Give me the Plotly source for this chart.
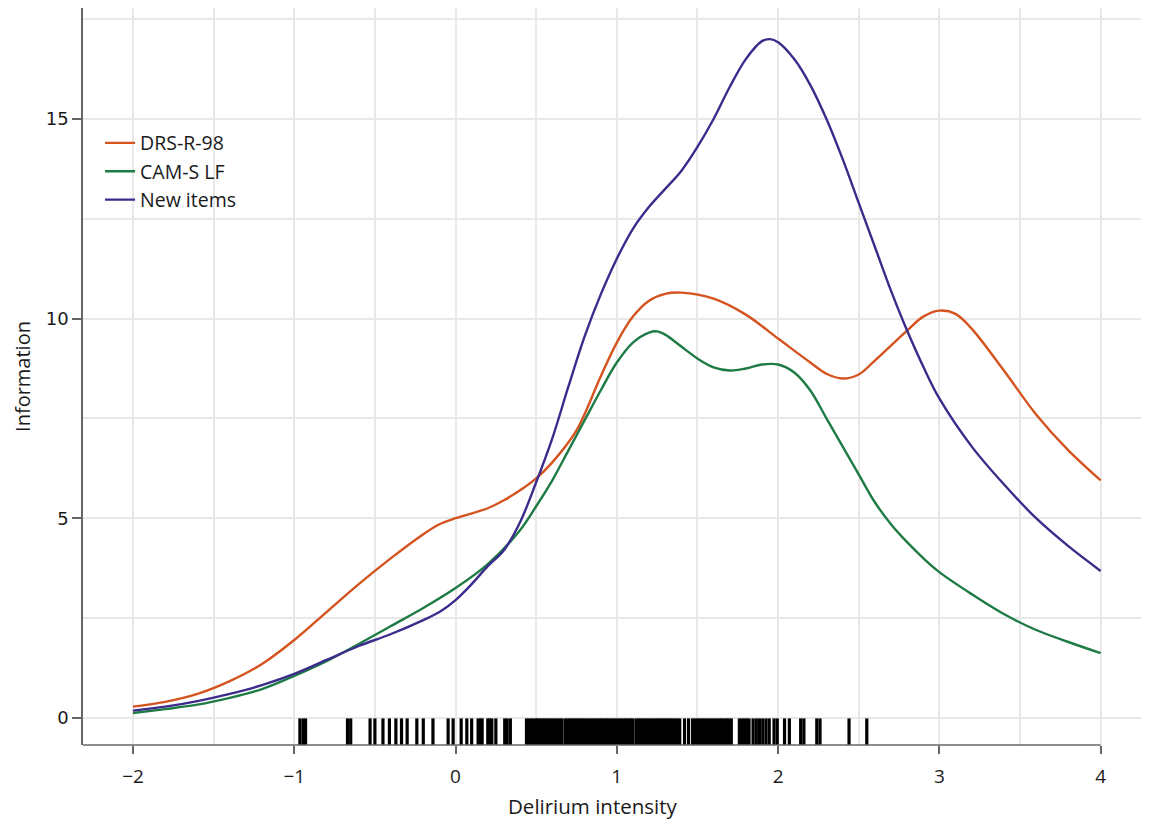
import plotly.graph_objects as go

# ---- data ----
x_drs = [-2.0, -1.8, -1.6, -1.4, -1.2, -1.0, -0.8, -0.6, -0.4, -0.2, -0.1, 0.0, 0.2, 0.3, 0.4, 0.5, 0.6,
         0.75, 0.9, 1.0, 1.1, 1.2, 1.3, 1.4, 1.6, 1.8, 2.0, 2.2, 2.3, 2.4, 2.5, 2.6, 2.8, 2.9, 3.0, 3.1, 3.2,
         3.4, 3.6, 3.8, 4.0]
y_drs = [0.28, 0.4, 0.6, 0.92, 1.35, 1.95, 2.65, 3.35, 4.0, 4.6, 4.85, 5.0, 5.25, 5.45, 5.7, 6.0, 6.4,
         7.2, 8.55, 9.4, 10.05, 10.45, 10.62, 10.65, 10.5, 10.1, 9.5, 8.9, 8.62, 8.5, 8.6, 8.95, 9.7, 10.05,
         10.2, 10.12, 9.75, 8.7, 7.6, 6.7, 5.95]

x_cam = [-2.0, -1.8, -1.6, -1.4, -1.2, -1.0, -0.8, -0.6, -0.4, -0.2, 0.0, 0.2, 0.4, 0.5, 0.6, 0.7, 0.8, 0.9,
         1.0, 1.1, 1.2, 1.25, 1.3, 1.4, 1.5, 1.6, 1.7, 1.8, 1.9, 2.0, 2.1, 2.2, 2.3, 2.4, 2.5, 2.6, 2.7,
         2.8, 2.9, 3.0, 3.2, 3.4, 3.6, 3.8, 4.0]
y_cam = [0.12, 0.22, 0.33, 0.5, 0.72, 1.05, 1.42, 1.85, 2.3, 2.75, 3.25, 3.85, 4.7, 5.3, 5.95, 6.7, 7.45, 8.2,
         8.9, 9.4, 9.65, 9.68, 9.6, 9.3, 9.0, 8.78, 8.7, 8.75, 8.85, 8.85, 8.65, 8.2, 7.5, 6.8, 6.1, 5.4, 4.85,
         4.4, 4.0, 3.65, 3.1, 2.6, 2.2, 1.9, 1.62]

x_new = [-2.0, -1.8, -1.6, -1.4, -1.2, -1.0, -0.8, -0.6, -0.4, -0.2, -0.1, 0.0, 0.1, 0.2, 0.3, 0.4, 0.5,
         0.6, 0.7, 0.8, 0.9, 1.0, 1.1, 1.2, 1.3, 1.4, 1.5, 1.6, 1.7, 1.8, 1.9, 1.95, 2.0, 2.1,
         2.2, 2.3, 2.4, 2.5, 2.6, 2.7, 2.8, 2.9, 3.0, 3.2, 3.4, 3.6, 3.8, 4.0]
y_new = [0.18, 0.28, 0.42, 0.6, 0.82, 1.1, 1.45, 1.8, 2.1, 2.45, 2.65, 2.95, 3.35, 3.8, 4.2, 4.9, 5.9,
         7.0, 8.3, 9.55, 10.6, 11.5, 12.25, 12.8, 13.25, 13.7, 14.3, 15.0, 15.8, 16.5, 16.95, 17.0,
         16.92, 16.5, 15.85, 15.0, 14.0, 12.9, 11.8, 10.7, 9.7, 8.8, 8.0, 6.8, 5.85, 5.0, 4.3, 3.68]

rug = [-0.965, -0.945, -0.93, -0.67, -0.65, -0.53, -0.50, -0.45, -0.41, -0.37, -0.335, -0.30, -0.24,
       -0.20, -0.14, -0.046, -0.015, 0.035, 0.07, 0.10, 0.14, 0.155, 0.165, 0.20, 0.21, 0.225, 0.25,
       0.305, 0.32, 0.34,
       0.44, 0.455, 0.47, 0.485, 0.50, 0.51, 0.525, 0.54, 0.555, 0.57, 0.585, 0.60, 0.615, 0.63, 0.645, 0.66,
       0.68, 0.695,
       0.71, 0.725, 0.74, 0.755, 0.77, 0.785, 0.80, 0.815, 0.83, 0.845, 0.86, 0.875, 0.89, 0.905, 0.92,
       0.935, 0.95, 0.965, 0.98, 0.995, 1.01, 1.025, 1.04, 1.055, 1.07, 1.085, 1.10,
       1.12, 1.135, 1.15, 1.165, 1.18, 1.195, 1.21, 1.225, 1.24, 1.255, 1.27, 1.285, 1.30, 1.315, 1.33,
       1.345, 1.36, 1.375, 1.39,
       1.42, 1.445,
       1.47, 1.485, 1.50, 1.515, 1.53, 1.545, 1.56, 1.575, 1.59, 1.605, 1.62, 1.635,
       1.65, 1.665, 1.68, 1.695, 1.71,
       1.76, 1.775, 1.79, 1.805, 1.82, 1.845, 1.865, 1.885, 1.905, 1.925, 1.945, 1.975, 1.995,
       2.04, 2.07, 2.14, 2.16, 2.24, 2.26, 2.44, 2.55]
rug_level = -0.40

x_ticks = [-2, -1, 0, 1, 2, 3, 4]
y_ticks = [0, 5, 10, 15]

series = [("DRS-R-98", x_drs, y_drs, "#d4531e"),
          ("CAM-S LF", x_cam, y_cam, "#1e7b45"),
          ("New items", x_new, y_new, "#3b2c8c")]

fig = go.Figure()
for name, xs, ys, col in series:
    fig.add_trace(go.Scatter(x=xs, y=ys, mode="lines", name=name,
                             line=dict(color=col, width=2.4, shape="spline", smoothing=1.0)))

fig.add_trace(go.Scatter(x=rug, y=[rug_level] * len(rug), mode="markers", showlegend=False,
                         hoverinfo="skip",
                         marker=dict(symbol="line-ns", size=22, color="black",
                                     line=dict(color="black", width=3.2))))

axis_col = "#666666"
txt_col = "#1a1a1a"
fig.update_layout(
    width=1141, height=817,
    margin=dict(l=75, r=0, t=0, b=80),
    plot_bgcolor="white", paper_bgcolor="white",
    font=dict(family="Open Sans, sans-serif", color=txt_col),
    legend=dict(x=0.016, y=0.843, xanchor="left", yanchor="top", bgcolor="rgba(0,0,0,0)",
                font=dict(size=19.5, family="Open Sans, sans-serif", color=txt_col),
                tracegroupgap=0, itemwidth=30),
    xaxis=dict(range=[-2.31, 4.30], tickvals=x_ticks, automargin=False,
               ticktext=["\u22122", "\u22121", "0", "1", "2", "3", "4"],
               showgrid=True, gridcolor="#e8e8e8", gridwidth=1.5,
               minor=dict(dtick=0.5, showgrid=True, gridcolor="#e8e8e8", gridwidth=1.5, ticks=""),
               showline=False, zeroline=False,
               ticks="outside", ticklen=8, tickcolor=axis_col, tickwidth=1.5,
               ticklabelstandoff=6,
               tickfont=dict(size=19, family="Open Sans, sans-serif", color=txt_col)),
    yaxis=dict(range=[-0.68, 17.78], tickvals=y_ticks, automargin=False,
               showgrid=True, gridcolor="#e8e8e8", gridwidth=1.5,
               minor=dict(dtick=2.5, showgrid=True, gridcolor="#e8e8e8", gridwidth=1.5, ticks=""),
               showline=True, linecolor=axis_col, linewidth=1.5, zeroline=False,
               ticks="outside", ticklen=9, tickcolor=axis_col, tickwidth=1.5,
               tickfont=dict(size=18, family="DejaVu Sans, sans-serif", color=txt_col),
               title=dict(text="Information", font=dict(size=20, family="Open Sans, sans-serif", color=txt_col),
                          standoff=10)),
)

# bottom axis line ending at x = 4
fig.add_shape(type="line", xref="paper", yref="paper", x0=0, x1=(4 + 2.31) / (4.30 + 2.31),
              y0=0, y1=0, line=dict(color=axis_col, width=1.5))
fig.add_annotation(text="Delirium intensity", xref="x", yref="paper", x=0.85, y=0,
                   yshift=-45, showarrow=False, yanchor="top",
                   font=dict(size=20.5, family="Open Sans, sans-serif", color=txt_col))

fig.write_html("out.html")
